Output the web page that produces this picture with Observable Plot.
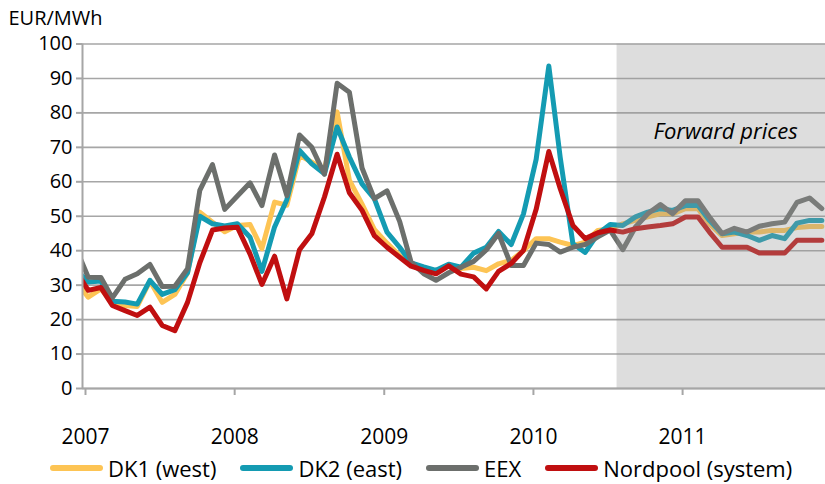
<!DOCTYPE html>
<html>
<head>
<meta charset="utf-8">
<script src="https://cdn.jsdelivr.net/npm/d3@7"></script>
<script src="https://cdn.jsdelivr.net/npm/@observablehq/plot@0.6"></script>
<style>
  html, body { margin: 0; padding: 0; background: #fff; }
  #wrap { position: relative; width: 825px; height: 484px; font-family: "Open Sans", sans-serif; }
  #legend { position: absolute; top: 453px; left: 50px; display: flex; align-items: center; font-size: 22px; color: #000; white-space: nowrap; }
  .item { display: flex; align-items: center; margin-right: 24px; }
  .sw { width: 53px; height: 6px; border-radius: 3px; margin-right: 5px; }
</style>
</head>
<body>
<div id="wrap"><div id="chart"></div><div id="legend"></div></div>
<script>
// Monthly prices, Dec 2006 .. Dec 2011 (first value lies left of the axis and is clipped)
const seriesNames = ["DK1 (west)", "DK2 (east)", "EEX", "Nordpool (system)"];
const seriesColors = ["#fdc454", "#149bb2", "#6c6f6c", "#c00f10"];
const yTicks = [0, 10, 20, 30, 40, 50, 60, 70, 80, 90, 100];
const yearTicks = ["2007", "2008", "2009", "2010", "2011"];
const forwardStart = "2010-08";
const forwardLabel = "Forward prices";
const yLabel = "EUR/MWh";

const dk1 = [31.3,
  26.5, 28.9, 25.1, 24.1, 23.8, 31.2, 25.0, 27.3, 33.5, 51.2, 48.3, 45.5,
  47.3, 47.6, 40.6, 54.1, 53.2, 67.7, 65.7, 63.5, 80.3, 60.5, 53.5, 46.2,
  42.2, 38.5, 36.5, 34.8, 34.1, 35.7, 34.8, 35.2, 34.2, 36.2, 37.2, 40.0,
  43.5, 43.5, 42.5, 41.5, 42.5, 45.9, 46.4, 47.8, 48.8, 49.8, 50.7, 50.7,
  52.2, 52.2, 47.8, 44.4, 44.9, 45.4, 45.4, 45.9, 45.9, 46.7, 47.0, 47.0];
const dk2 = [34.7,
  30.9, 31.2, 25.3, 25.1, 24.5, 31.4, 27.3, 28.7, 33.6, 50.0, 47.8, 47.2,
  47.8, 43.9, 34.0, 46.9, 54.8, 69.1, 65.2, 62.3, 75.9, 67.2, 59.4, 55.1,
  45.4, 41.0, 36.5, 35.3, 34.3, 36.1, 35.2, 39.3, 41.0, 45.6, 41.8, 50.7,
  66.5, 93.6, 67.0, 42.0, 39.5, 44.9, 47.6, 47.3, 49.8, 51.2, 52.2, 51.7,
  53.1, 53.1, 48.8, 44.9, 45.4, 44.4, 43.0, 44.4, 43.5, 48.0, 48.8, 48.8];
const eex = [41.0,
  32.3, 32.2, 26.3, 31.7, 33.3, 36.0, 29.6, 29.7, 34.8, 57.5, 65.0, 52.0,
  55.9, 59.7, 53.1, 67.8, 56.0, 73.6, 70.0, 62.2, 88.6, 86.0, 64.0, 55.1,
  57.4, 48.5, 36.7, 33.3, 31.4, 33.6, 35.2, 36.9, 40.2, 45.0, 35.7, 35.7,
  42.2, 41.8, 39.6, 41.0, 41.8, 44.0, 46.0, 40.3, 46.9, 50.7, 53.4, 50.7,
  54.5, 54.5, 49.8, 45.0, 46.5, 45.4, 47.1, 47.8, 48.3, 54.0, 55.3, 52.2];
const nordpool = [34.3,
  28.5, 29.3, 24.1, 22.6, 21.2, 23.6, 18.3, 16.8, 25.0, 36.5, 46.0, 46.6,
  46.8, 39.0, 30.2, 38.4, 26.0, 40.3, 44.9, 55.6, 68.0, 56.8, 51.7, 44.4,
  41.0, 38.1, 35.5, 34.3, 33.3, 35.6, 33.2, 32.4, 28.9, 34.0, 36.3, 40.1,
  52.0, 68.8, 58.0, 47.3, 43.5, 45.2, 46.0, 45.4, 46.4, 46.9, 47.3, 47.8,
  49.8, 49.8, 45.4, 41.0, 41.0, 41.0, 39.3, 39.3, 39.3, 43.0, 43.0, 43.0];

const allSeries = [dk1, dk2, eex, nordpool];
const monthStarts = d3.utcMonths(new Date(Date.UTC(2006, 11, 1)), new Date(Date.UTC(2012, 0, 1)));
const mid = d => new Date(d.getTime() + 14 * 864e5);
const tables = allSeries.map((vals, s) => vals.map((v, i) => ({date: mid(monthStarts[i]), value: v, series: seriesNames[s]})));

const xStart = new Date(Date.UTC(2007, 0, 1));
const xEnd = new Date(Date.UTC(2011, 11, 24));
const fwd = d3.utcParse("%Y-%m")(forwardStart);
const yearDates = yearTicks.map(y => d3.utcParse("%Y")(y));

const font = "Open Sans, sans-serif";
const chart = Plot.plot({
  width: 825,
  height: 452,
  marginLeft: 82,
  marginRight: 0,
  marginTop: 43.5,
  marginBottom: 64,
  style: {fontFamily: font, fontSize: "20px", color: "#000", background: "#fff"},
  x: {type: "utc", domain: [xStart, xEnd]},
  y: {domain: [0, 100]},
  marks: [
    Plot.gridY(yTicks, {stroke: "#a6a6a6", strokeOpacity: 1, strokeWidth: 1.6}),
    ...tables.map((t, s) => Plot.line(t, {x: "date", y: "value", stroke: seriesColors[s], strokeWidth: 5, strokeLinejoin: "round", clip: true})),
    Plot.rect([{x1: fwd, x2: xEnd}], {x1: "x1", x2: "x2", y1: 0, y2: 100, fill: "#999", fillOpacity: 0.33}),
    Plot.ruleX([xStart], {y1: 0, y2: 100, stroke: "#a6a6a6", strokeWidth: 2}),
    Plot.ruleY([0], {stroke: "#a6a6a6", strokeWidth: 2}),
    Plot.axisY(yTicks, {tickSize: 6, tickPadding: 4, stroke: "#a6a6a6", strokeWidth: 2, fill: "#000", fontSize: 20, label: null, tickFormat: d => String(d)}),
    Plot.axisX(yearDates, {tickSize: 7, tickPadding: 34, stroke: "#a6a6a6", strokeWidth: 2, fill: "#000", fontSize: 21, dx: 3, label: null, tickFormat: d3.utcFormat("%Y")}),
    Plot.text([forwardLabel], {frameAnchor: "top-right", dx: -100, dy: 88, textAnchor: "middle", lineAnchor: "middle", fontSize: 22, fontStyle: "italic", fill: "#000"}),
    Plot.text([yLabel], {frameAnchor: "top-left", dx: -74, dy: -25, textAnchor: "start", lineAnchor: "middle", fontSize: 20, fill: "#000"})
  ]
});
document.getElementById("chart").appendChild(chart);

const legend = document.getElementById("legend");
seriesNames.forEach((n, i) => {
  const it = document.createElement("div");
  it.className = "item";
  const sw = document.createElement("div");
  sw.className = "sw";
  sw.style.background = seriesColors[i];
  const tx = document.createElement("span");
  tx.textContent = n;
  it.appendChild(sw); it.appendChild(tx);
  legend.appendChild(it);
});
</script>
</body>
</html>
